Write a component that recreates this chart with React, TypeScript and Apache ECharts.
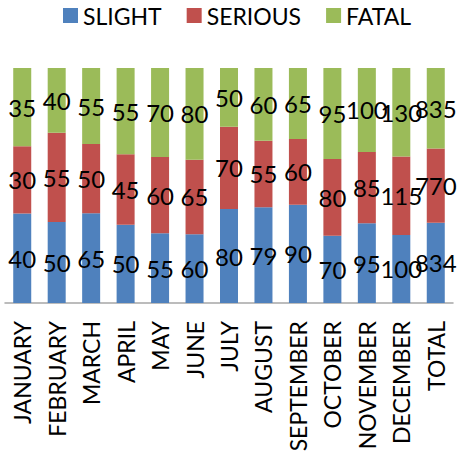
import React, { useEffect, useRef } from "react";
import * as echarts from "echarts";

const categories = ["JANUARY", "FEBRUARY", "MARCH", "APRIL", "MAY", "JUNE", "JULY", "AUGUST", "SEPTEMBER", "OCTOBER", "NOVEMBER", "DECEMBER", "TOTAL"];
const slight = [40, 50, 65, 50, 55, 60, 80, 79, 90, 70, 95, 100, 834];
const serious = [30, 55, 50, 45, 60, 65, 70, 55, 60, 80, 85, 115, 770];
const fatal = [35, 40, 55, 55, 70, 80, 50, 60, 65, 95, 100, 130, 835];

const totals = categories.map((_, i) => slight[i] + serious[i] + fatal[i]);
const FONT = "Lato";

function mk(name: string, raw: number[], color: string) {
  return {
    name,
    type: "bar",
    stack: "s",
    barWidth: 18,
    itemStyle: { color },
    data: raw.map((v, i) => ({ value: (v / totals[i]) * 100, raw: v })),
    label: {
      show: true,
      position: "inside",
      color: "#000",
      fontSize: 24,
      fontFamily: FONT,
      formatter: (p: any) => String(raw[p.dataIndex]),
    },
  };
}

export default function App() {
  const ref = useRef<HTMLDivElement>(null);
  useEffect(() => {
    const chart = echarts.init(ref.current!, null, { renderer: "svg" });
    chart.setOption({
      animation: false,
      legend: {
        top: -1,
        left: 58,
        itemWidth: 15,
        itemHeight: 15,
        itemGap: 25,
        icon: "rect",
        textStyle: { fontSize: 23, fontFamily: FONT, color: "#000" },
        data: ["SLIGHT", "SERIOUS", "FATAL"],
      },
      grid: { left: 5, right: 6, top: 68, bottom: 152, containLabel: false, outerBoundsMode: "none" },
      xAxis: {
        type: "category",
        data: categories,
        axisLine: { lineStyle: { color: "#a6a6a6", width: 1.5 } },
        axisTick: { show: false },
        axisLabel: {
          rotate: 90,
          interval: 0,
          margin: 18,
          fontSize: 23,
          fontFamily: FONT,
          color: "#000",
        },
      },
      yAxis: { type: "value", min: 0, max: 100, show: false, splitLine: { show: false } },
      series: [
        mk("SLIGHT", slight, "#4f81bd"),
        mk("SERIOUS", serious, "#c0504d"),
        mk("FATAL", fatal, "#9bbb59"),
      ],
    });
    return () => chart.dispose();
  }, []);
  return <div ref={ref} style={{ width: 459, height: 455, position: "absolute", left: 0, top: 0 }} />;
}
